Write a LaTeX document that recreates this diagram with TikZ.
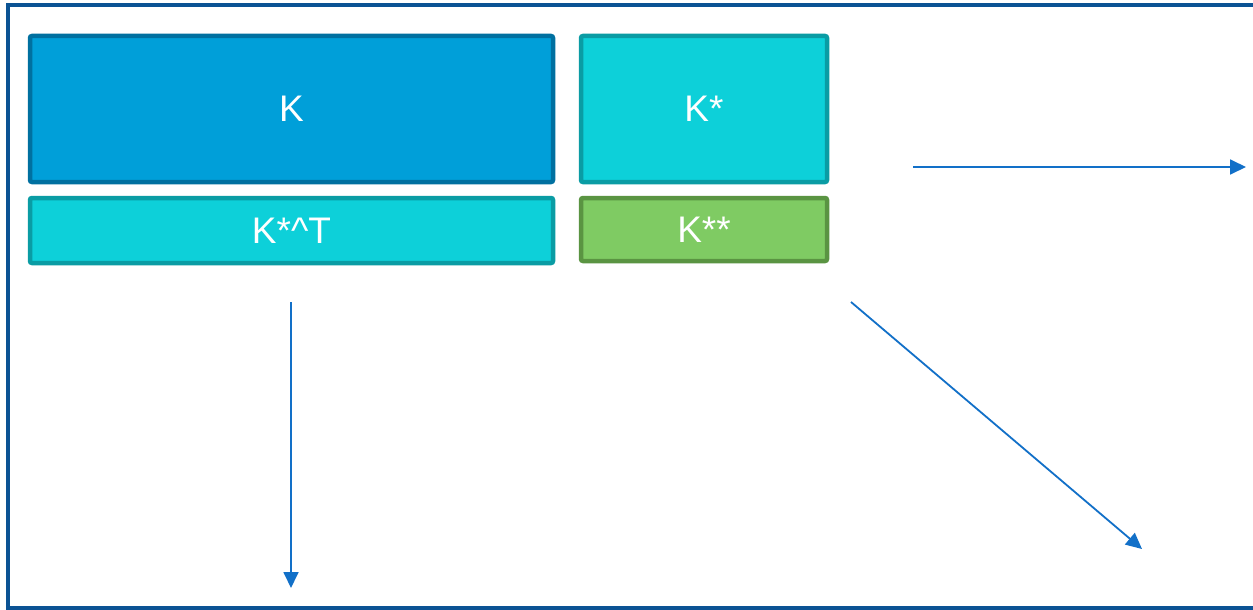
\documentclass[tikz,border=0pt]{standalone}
\usepackage{fontspec}
\setmainfont{Liberation Sans}
\usetikzlibrary{arrows.meta}
\definecolor{frameblue}{HTML}{0B5394}
\definecolor{kfill}{HTML}{009FD9}
\definecolor{kline}{HTML}{0070A0}
\definecolor{cfill}{HTML}{0DD0D9}
\definecolor{cline}{HTML}{0A9CA4}
\definecolor{gfill}{HTML}{7FCB63}
\definecolor{gline}{HTML}{5A9442}
\definecolor{arrowblue}{HTML}{1270C8}
\tikzset{
  blk/.style={draw, line width=4.5pt, rounded corners=2pt, inner sep=0pt,
    text=white, font=\fontsize{37}{42}\selectfont},
  kblk/.style={blk, fill=kfill, draw=kline},
  cblk/.style={blk, fill=cfill, draw=cline},
  gblk/.style={blk, fill=gfill, draw=gline},
  flow/.style={draw=arrowblue, line width=1.8pt,
    -{Triangle[length=16pt, width=15pt]}},
}
\begin{document}
\begin{tikzpicture}[x=1pt, y=-1pt]
\useasboundingbox (0,0) rectangle (1253,610);
\fill[white] (0,0) rectangle (1253,610);
% outer frame
\draw[frameblue, line width=4pt] (1260,5) -- (8,5) -- (8,607.5) -- (1260,607.5);
% matrix blocks
\node[kblk, minimum width=523pt, minimum height=146pt] (K) at (291.5,109) {K};
\node[cblk, minimum width=246pt, minimum height=146pt] (Ks) at (704,109) {K*};
\node[cblk, minimum width=523pt, minimum height=65pt] (KsT) at (291.5,230.5) {K*\textasciicircum T};
\node[gblk, minimum width=246pt, minimum height=63pt] (Kss) at (704,229.5) {K**};
% arrows
\coordinate (a1) at (291,302);
\coordinate (b1) at (291,588);
\coordinate (a2) at (913,167);
\coordinate (b2) at (1246,167);
\coordinate (a3) at (851,302);
\coordinate (b3) at (1142,549);
\draw[flow] (a1) -- (b1);
\draw[flow] (a2) -- (b2);
\draw[flow] (a3) -- (b3);
\end{tikzpicture}
\end{document}
